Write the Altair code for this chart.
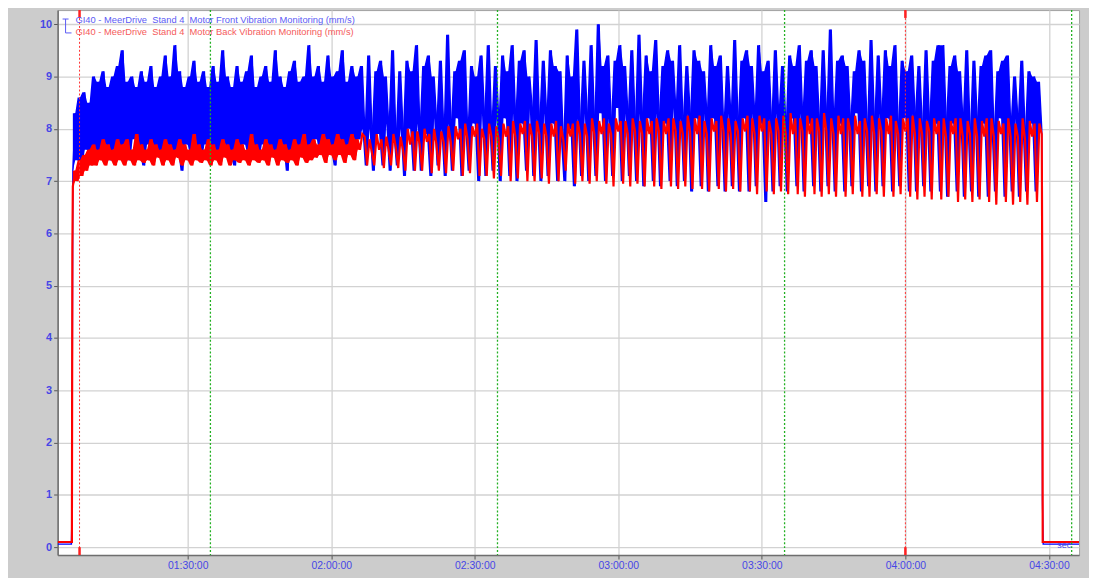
import altair as alt
import pandas as pd

# ---------------- data (time in minutes after midnight) ----------------
X_DOMAIN = [62.82, 276.3]
Y_DOMAIN = [-0.15, 10.27]
TICK_MINUTES = [90, 120, 150, 180, 210, 240, 270]
Y_TICKS = [0, 1, 2, 3, 4, 5, 6, 7, 8, 9, 10]

SAMPLE_START = 66.0   # 01:06:00, one reading every 30 s
SAMPLE_STEP = 0.5
NOISY_PHASE_END = 126.0   # 02:06:00, end of the un-cycled running phase

# idle lead-in and shut-down tail
front_lead_t = [62.82, 65.7, 65.75, 65.8]
front_lead = [0.06, 0.06, 0.32, 0.32]
back_lead_t = [62.82, 65.8, 65.9]
back_lead = [0.1, 0.1, 5.7]
front_tail_t = [268.6, 268.65, 268.75, 268.8, 276.3]
front_tail = [5.6, 0.9, 0.3, 0.06, 0.06]
back_tail_t = [268.6, 268.7, 276.3]
back_tail = [5.5, 0.1, 0.1]

# Motor Front vibration (mm/s), one row = 10 minutes
front_rows = [
    [7.2, 8.3, 7.4, 8.6, 7.3, 8.7, 7.6, 8.5, 7.4, 9.0, 7.6, 8.9, 7.5, 9.1, 7.7, 8.8, 7.4, 9.0, 7.6, 9.2],
    [7.5, 9.5, 7.7, 8.9, 7.4, 9.0, 7.8, 8.8, 7.6, 9.1, 7.3, 8.9, 7.7, 9.2, 7.5, 8.8, 7.6, 9.0, 7.4, 9.4],
    [7.7, 9.0, 7.5, 9.6, 7.6, 9.1, 7.2, 8.8, 7.7, 9.0, 7.5, 9.3, 7.6, 8.9, 7.4, 9.1, 7.7, 8.8, 7.5, 9.2],
    [7.6, 8.9, 7.4, 9.5, 7.7, 9.0, 7.5, 8.8, 7.3, 9.2, 7.6, 8.9, 7.7, 9.1, 7.5, 9.4, 7.6, 8.8, 7.4, 9.0],
    [7.7, 9.2, 7.5, 8.9, 7.6, 9.5, 7.4, 9.0, 7.7, 8.8, 7.2, 9.1, 7.6, 9.3, 7.5, 8.9, 7.7, 9.0, 7.4, 9.6],
    [7.6, 9.0, 7.8, 9.2, 7.5, 8.9, 7.7, 9.4, 7.6, 9.0, 7.3, 9.1, 7.8, 9.5, 7.6, 8.9, 7.7, 9.2, 7.5, 9.0],
    [7.8, 9.2, 8.0, 7.3, 9.4, 8.0, 7.2, 9.1, 7.9, 9.3, 7.3, 9.0, 8.1, 7.2, 9.5, 7.9, 7.3, 9.1, 8.0, 7.1],
    [9.3, 8.0, 9.1, 7.2, 9.6, 8.1, 7.2, 9.2, 7.9, 9.4, 7.1, 9.0, 8.2, 7.3, 9.3, 8.0, 7.1, 9.8, 8.1, 7.2],
    [9.1, 8.2, 9.3, 7.1, 9.5, 8.0, 7.2, 9.2, 8.1, 9.0, 7.0, 9.4, 8.3, 7.1, 9.6, 8.1, 7.2, 9.2, 8.2, 7.0],
    [9.4, 8.2, 9.1, 7.1, 9.6, 8.3, 7.0, 9.3, 8.1, 9.5, 7.2, 9.0, 8.4, 7.1, 9.7, 8.2, 7.0, 9.3, 8.3, 7.1],
    [9.5, 8.1, 9.2, 7.0, 9.1, 7.8, 7.0, 9.4, 8.0, 9.0, 6.9, 9.9, 8.2, 7.1, 9.3, 8.3, 7.0, 9.6, 8.2, 7.1],
    [10.0, 8.3, 9.2, 7.0, 9.4, 8.2, 7.1, 9.3, 8.4, 9.6, 7.0, 9.2, 8.3, 7.1, 9.5, 8.2, 7.0, 9.8, 8.3, 6.9],
    [9.4, 8.2, 9.1, 7.0, 9.7, 8.3, 6.9, 9.2, 8.1, 9.5, 7.0, 9.3, 8.4, 6.9, 9.6, 8.2, 7.0, 9.2, 8.3, 6.8],
    [9.5, 8.2, 9.3, 6.9, 9.1, 8.3, 6.8, 9.6, 8.2, 9.2, 6.9, 9.4, 8.1, 6.8, 9.2, 8.3, 6.9, 9.7, 8.2, 6.8],
    [9.3, 8.2, 9.5, 6.8, 9.2, 8.3, 6.9, 9.6, 8.1, 9.1, 6.6, 9.3, 8.2, 6.8, 9.5, 8.3, 6.9, 9.2, 8.1, 6.8],
    [9.4, 8.2, 9.2, 6.9, 9.6, 8.3, 6.8, 9.3, 8.1, 9.5, 6.9, 9.2, 8.2, 6.8, 9.5, 8.3, 6.9, 9.9, 8.2, 6.8],
    [9.3, 8.1, 9.4, 6.8, 9.2, 8.2, 6.9, 9.1, 8.3, 9.5, 6.8, 9.3, 8.1, 6.9, 9.7, 8.2, 6.8, 9.4, 8.3, 6.9],
    [9.5, 8.2, 9.2, 6.8, 9.6, 8.1, 6.9, 9.3, 8.2, 9.1, 6.8, 9.4, 8.3, 6.8, 9.2, 8.1, 6.9, 9.5, 8.2, 6.8],
    [9.3, 8.1, 9.6, 6.8, 9.6, 8.2, 6.7, 9.2, 8.1, 9.4, 6.8, 9.1, 8.2, 6.7, 9.5, 8.0, 6.8, 9.3, 8.2, 6.7],
    [9.2, 8.1, 9.4, 6.7, 9.5, 8.0, 6.8, 9.1, 8.2, 9.3, 6.7, 9.4, 8.1, 6.8, 9.0, 8.2, 6.7, 9.3, 8.0, 6.8],
    [9.1, 8.1, 9.0, 6.8, 8.9, 8.0],
]

# Motor Back vibration (mm/s), one row = 10 minutes
back_rows = [
    [6.9, 7.2, 7.0, 7.4, 7.1, 7.5, 7.2, 7.6, 7.3, 7.7, 7.3, 7.6, 7.4, 7.8, 7.3, 7.7, 7.4, 7.6, 7.3, 7.8],
    [7.4, 7.7, 7.3, 7.8, 7.4, 7.6, 7.3, 7.9, 7.4, 7.7, 7.35, 7.6, 7.4, 7.8, 7.3, 7.7, 7.45, 7.6, 7.3, 7.8],
    [7.4, 7.7, 7.3, 7.6, 7.45, 7.8, 7.3, 7.7, 7.4, 7.6, 7.3, 7.9, 7.4, 7.7, 7.35, 7.6, 7.4, 7.8, 7.3, 7.7],
    [7.4, 7.6, 7.3, 7.8, 7.45, 7.7, 7.3, 7.6, 7.4, 7.8, 7.35, 7.7, 7.4, 7.6, 7.3, 7.9, 7.4, 7.7, 7.35, 7.6],
    [7.4, 7.8, 7.3, 7.7, 7.45, 7.6, 7.3, 7.8, 7.4, 7.7, 7.35, 7.6, 7.4, 7.8, 7.3, 7.7, 7.45, 7.9, 7.35, 7.7],
    [7.4, 7.8, 7.45, 7.7, 7.5, 7.9, 7.35, 7.8, 7.5, 7.7, 7.4, 7.9, 7.5, 7.8, 7.35, 7.7, 7.5, 7.9, 7.4, 7.8],
    [7.6, 7.9, 7.85, 7.3, 7.8, 7.55, 7.3, 7.9, 7.6, 7.8, 7.25, 7.85, 7.6, 7.3, 7.9, 7.65, 7.25, 7.85, 7.6, 7.2],
    [8.0, 7.7, 7.95, 7.2, 7.95, 7.7, 7.2, 8.0, 7.75, 7.9, 7.15, 8.0, 7.7, 7.2, 7.95, 7.75, 7.15, 8.05, 7.75, 7.2],
    [8.05, 7.8, 8.0, 7.1, 8.1, 7.8, 7.15, 8.05, 7.85, 8.1, 7.1, 8.0, 7.8, 7.1, 8.1, 7.85, 7.05, 8.05, 7.8, 7.1],
    [8.1, 7.85, 8.05, 7.0, 8.15, 7.85, 7.05, 8.1, 7.9, 8.15, 7.0, 8.1, 7.85, 7.0, 8.15, 7.9, 7.05, 8.1, 7.85, 6.95],
    [8.1, 7.85, 8.15, 7.0, 8.05, 7.8, 7.2, 8.1, 7.85, 8.1, 6.95, 8.15, 7.9, 7.0, 8.1, 7.85, 6.95, 8.2, 7.9, 7.0],
    [8.15, 7.9, 8.2, 6.95, 8.1, 7.9, 6.9, 8.2, 7.95, 8.15, 6.95, 8.15, 7.9, 6.9, 8.2, 7.95, 6.95, 8.15, 7.9, 6.9],
    [8.2, 7.9, 8.15, 6.9, 8.2, 7.95, 6.85, 8.15, 7.9, 8.2, 6.9, 8.2, 7.95, 6.85, 8.15, 7.9, 6.9, 8.25, 7.95, 6.85],
    [8.2, 7.9, 8.25, 6.85, 8.15, 7.9, 6.8, 8.2, 7.95, 8.15, 6.85, 8.25, 7.95, 6.8, 8.2, 7.9, 6.85, 8.15, 7.95, 6.8],
    [8.2, 7.95, 8.25, 6.8, 8.2, 7.9, 6.75, 8.25, 7.95, 8.2, 6.8, 8.15, 7.9, 6.75, 8.2, 7.95, 6.8, 8.25, 7.9, 6.75],
    [8.3, 7.9, 8.2, 6.75, 8.2, 7.95, 6.7, 8.25, 7.9, 8.2, 6.75, 8.2, 7.95, 6.7, 8.3, 7.95, 6.75, 8.2, 7.9, 6.7],
    [8.25, 7.9, 8.2, 6.7, 8.2, 7.95, 6.75, 8.25, 7.9, 8.15, 6.7, 8.2, 7.95, 6.7, 8.25, 7.9, 6.75, 8.2, 7.95, 6.7],
    [8.2, 7.9, 8.25, 6.7, 8.15, 7.9, 6.75, 8.2, 7.95, 8.2, 6.7, 8.25, 7.9, 6.65, 8.2, 7.9, 6.7, 8.15, 7.95, 6.65],
    [8.2, 7.9, 8.15, 6.65, 8.2, 7.85, 6.7, 8.15, 7.9, 8.2, 6.6, 8.2, 7.85, 6.65, 8.15, 7.9, 6.6, 8.2, 7.85, 6.65],
    [8.15, 7.85, 8.2, 6.6, 8.2, 7.85, 6.55, 8.15, 7.9, 8.1, 6.6, 8.2, 7.85, 6.55, 8.1, 7.85, 6.6, 8.2, 7.8, 6.55],
    [8.15, 7.85, 8.1, 6.6, 8.1, 7.9],
]

red_marker_minutes = [67.4, 240.0]
green_marker_minutes = [94.75, 154.75, 214.75, 274.75]

front_label = "GI40 - MeerDrive\u00a0\u00a0Stand 4\u00a0\u00a0Motor Front Vibration Monitoring (mm/s)"
back_label = "GI40 - MeerDrive\u00a0\u00a0Stand 4\u00a0\u00a0Motor Back Vibration Monitoring (mm/s)"
unit_label = "sec"

# ---------------- build tables ----------------
def samples(rows):
    vals = [v for r in rows for v in r]
    ts = [SAMPLE_START + SAMPLE_STEP * i for i in range(len(vals))]
    return ts, vals

def trace(lead_t, lead_v, rows, tail_t, tail_v):
    ts, vals = samples(rows)
    t_all = list(lead_t) + ts + list(tail_t)
    v_all = list(lead_v) + vals + list(tail_v)
    return pd.DataFrame({"t": t_all, "v": v_all, "order": range(len(t_all))})

def sweep(rows, t_end=None):
    # span the trace sweeps between each reading and the next one
    ts, vals = samples(rows)
    df = pd.DataFrame({"t": ts, "v": vals})
    if t_end is not None:
        df = df[df["t"] <= t_end].reset_index(drop=True)
    nxt = df["v"].shift(-1).fillna(df["v"])
    pair = pd.concat([df["v"], nxt], axis=1)
    df["lo"] = pair.min(axis=1)
    df["hi"] = pair.max(axis=1)
    return df

front_df = trace(front_lead_t, front_lead, front_rows, front_tail_t, front_tail)
back_df = trace(back_lead_t, back_lead, back_rows, back_tail_t, back_tail)
front_sweep = sweep(front_rows)
back_sweep = sweep(back_rows, NOISY_PHASE_END)

BLUE_LABEL = "#4646e6"
FONT = "Liberation Sans"

xscale = alt.Scale(domain=X_DOMAIN, nice=False, zero=False)
yscale = alt.Scale(domain=Y_DOMAIN, nice=False, zero=False)

x_axis = alt.Axis(
    values=TICK_MINUTES,
    labelExpr="timeFormat(datetime(2000, 0, 1, 0, datum.value, 0), '%H:%M:%S')",
    title=None, grid=True, gridColor="#d2d2d2", gridWidth=1.3,
    domainColor="#6e6e6e", domainWidth=1.5, tickColor="#555555", tickSize=4,
    labelColor=BLUE_LABEL, labelFontSize=10.5, labelFont=FONT, labelPadding=2,
)
y_axis = alt.Axis(
    values=Y_TICKS, title=None, grid=True, gridColor="#d2d2d2", gridWidth=1.3,
    domainColor="#6e6e6e", domainWidth=1.5, tickColor="#555555", tickSize=4,
    labelColor=BLUE_LABEL, labelFontSize=11, labelFont=FONT, labelFontWeight="bold",
    labelPadding=2,
)

front_body = alt.Chart(front_sweep).mark_area(color="#0000ff", clip=True).encode(
    x=alt.X("t:Q", scale=xscale, axis=x_axis),
    y=alt.Y("lo:Q", scale=yscale, axis=y_axis),
    y2="hi:Q",
)
front = alt.Chart(front_df).mark_line(color="#0000ff", strokeWidth=1.4, clip=True).encode(
    x="t:Q", y="v:Q", order="order:Q"
)
back_body = alt.Chart(back_sweep).mark_area(color="#ff0000", clip=True).encode(
    x="t:Q", y="lo:Q", y2="hi:Q"
)
back = alt.Chart(back_df).mark_line(color="#ff0000", strokeWidth=2.2, clip=True).encode(
    x="t:Q", y="v:Q", order="order:Q"
)

red_df = pd.DataFrame({"t": red_marker_minutes})
green_df = pd.DataFrame({"t": green_marker_minutes})

red_lines = alt.Chart(red_df).mark_rule(color="#ff3030", strokeDash=[2, 2], strokeWidth=1).encode(
    x="t:Q"
)
red_top = alt.Chart(red_df).mark_rule(color="#ff2020", strokeWidth=2.5).encode(
    x="t:Q", y=alt.datum(10.27), y2=alt.datum(10.12)
)
red_bottom = alt.Chart(red_df).mark_rule(color="#ff2020", strokeWidth=2.5).encode(
    x="t:Q", y=alt.datum(0.0), y2=alt.datum(-0.15)
)
green_lines = alt.Chart(green_df).mark_rule(color="#22b022", strokeDash=[2, 2], strokeWidth=1.3).encode(
    x="t:Q"
)

label_df = pd.DataFrame({"front": [front_label], "back": [back_label], "unit": [unit_label]})
front_text = alt.Chart(label_df).mark_text(
    align="left", baseline="middle", font=FONT, fontSize=9.4, color="#5b5bf5"
).encode(x=alt.value(18), y=alt.value(10), text="front:N")
back_text = alt.Chart(label_df).mark_text(
    align="left", baseline="middle", font=FONT, fontSize=9.4, color="#f55b5b"
).encode(x=alt.value(18), y=alt.value(22), text="back:N")

bracket_color = "#5b5bf5"
br_v = alt.Chart(label_df).mark_rule(color=bracket_color, strokeWidth=1).encode(
    x=alt.value(8), y=alt.value(9), y2=alt.value(23)
)
br_top = alt.Chart(label_df).mark_rule(color=bracket_color, strokeWidth=1).encode(
    x=alt.value(5), x2=alt.value(11), y=alt.value(9)
)
br_bot = alt.Chart(label_df).mark_rule(color=bracket_color, strokeWidth=1).encode(
    x=alt.value(8), x2=alt.value(14), y=alt.value(23)
)

unit_text = alt.Chart(label_df).mark_text(
    color=BLUE_LABEL, fontSize=9, font=FONT, align="center", baseline="middle"
).encode(x=alt.datum(273.2), y=alt.datum(0.05), text="unit:N")

chart = alt.layer(
    front_body, front, back_body, back, red_lines, green_lines, red_top, red_bottom,
    front_text, back_text, br_v, br_top, br_bot, unit_text,
).properties(
    width=1029, height=549,
    autosize=alt.AutoSizeParams(type="none"),
    padding={"left": 50, "top": 0, "right": 10, "bottom": 21},
    background="#cccccc",
).configure_view(fill="#ffffff", stroke="#a0a0a0", strokeWidth=1)

chart.save("out.html", embed_options={"renderer": "svg", "actions": False})
